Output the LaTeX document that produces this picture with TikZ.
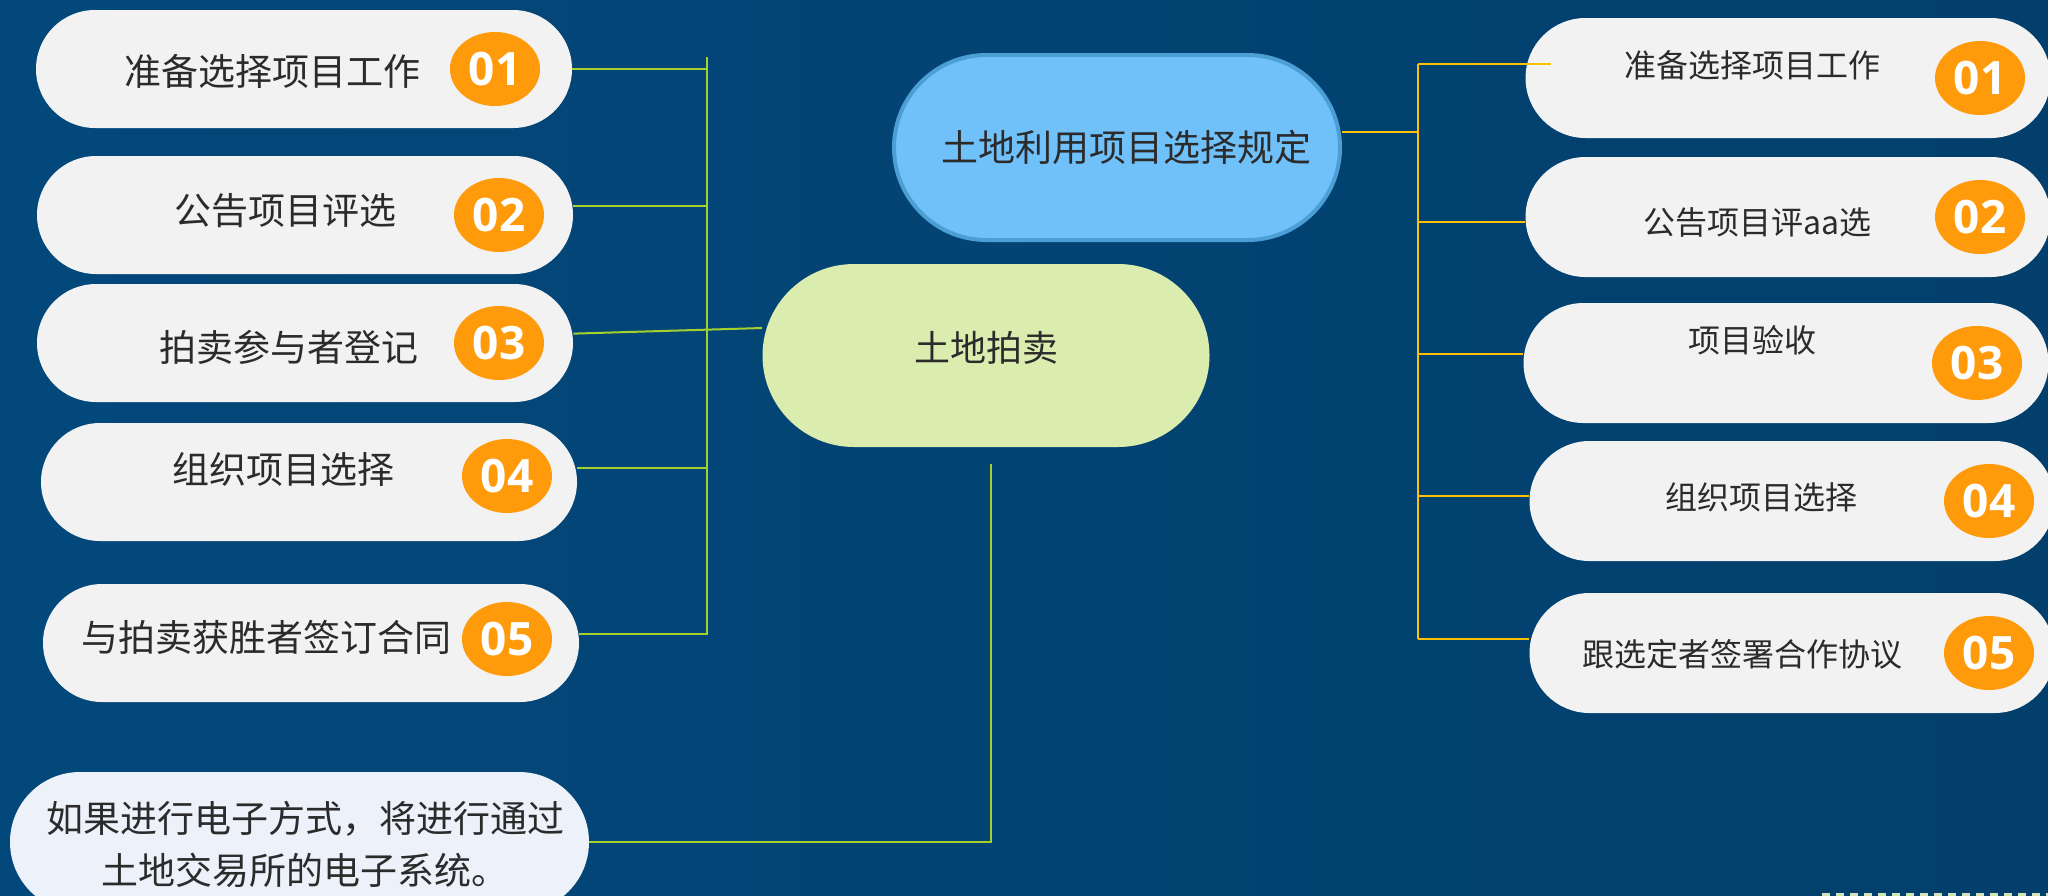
\documentclass[tikz,border=0pt]{standalone}
\usepackage{fontspec}
\newfontfamily\cjk{Noto Sans CJK SC}
\newfontfamily\numfont{Open Sans}
\usetikzlibrary{shapes.geometric}

\definecolor{bgleft}{HTML}{03487B}
\definecolor{bgright}{HTML}{023F6C}
\definecolor{boxgray}{HTML}{F2F2F2}
\definecolor{boxpale}{HTML}{EDF1F9}
\definecolor{numorange}{HTML}{FF9A0B}
\definecolor{leafgreen}{HTML}{A4D12C}
\definecolor{leafgold}{HTML}{FFC000}
\definecolor{rulesblue}{HTML}{70C0FA}
\definecolor{rulesrim}{HTML}{4B9FD4}
\definecolor{auctiongreen}{HTML}{DBECAF}
\definecolor{inkgray}{HTML}{2B2B2B}
\definecolor{dashpale}{HTML}{D2E3B8}

\tikzset{
	leftbox/.style={rectangle,rounded corners=29.5pt,fill=boxgray,minimum width=268pt,minimum height=59pt,inner sep=0pt},
	rightbox/.style={rectangle,rounded corners=30pt,fill=boxgray,minimum width=262.5pt,minimum height=60pt,inner sep=0pt},
	notebox/.style={rectangle,rounded corners=35pt,fill=boxpale,minimum width=289.5pt,minimum height=70pt,inner sep=0pt},
	itemtext/.style={inner sep=0pt,text=inkgray,font=\cjk\fontsize{18.5}{26}\selectfont},
	itemsmall/.style={inner sep=0pt,text=inkgray,font=\cjk\fontsize{16}{20}\selectfont},
	numdot/.style={ellipse,fill=numorange,minimum width=45pt,minimum height=37pt,inner sep=0pt,text=white,font=\numfont\bfseries\fontsize{23}{26}\selectfont},
	gline/.style={leafgreen,line width=1pt},
	oline/.style={leafgold,line width=1pt},
}

\begin{document}
\begin{tikzpicture}[x=0.5pt,y=-0.5pt]
	\useasboundingbox (0,0) rectangle (2048,895);
	\shade[left color=bgleft,right color=bgright] (0,0) rectangle (2048,895);
	
	% The two heads
	\node[rectangle,rounded corners=46.25pt,fill=rulesblue,draw=rulesrim,line width=2pt,minimum width=223pt,minimum height=92.5pt,text=inkgray,font=\cjk\fontsize{18.5}{22}\selectfont] (rules) at (1117,147.5) {\hspace{9pt}土地利用项目选择规定};
	\node[rectangle,rounded corners=45.75pt,fill=auctiongreen,minimum width=223.5pt,minimum height=91.5pt,inner sep=0pt,text=inkgray,font=\cjk\fontsize{18}{22}\selectfont] (auction) at (986,355.5) {\raisebox{9pt}{土地拍卖}\hspace{16pt}};
	
	% Left column
	\foreach \n/\bx/\by/\tx/\ty/\cx/\cy/\txt in {
		1/304/69/272/71/495/69/准备选择项目工作,
		2/305/215/285/211/499/215/公告项目评选,
		3/305/343/289/347/499/343/拍卖参与者登记,
		4/309/482/283/469/507/476/组织项目选择,
		5/311/643/266/637/507/639/与拍卖获胜者签订合同}
	{
		\node[leftbox] (L\n) at (\bx,\by) {};
		\node[itemtext] (L\n text) at (\tx,\ty) {\txt};
		\node[numdot] (L\n num) at (\cx,\cy) {0\n};
	}
	\node[notebox] (L6) at (299.5,842) {};
	\node[itemtext,align=center] (L6 text) at (305,844) {如果进行电子方式，将进行通过\\土地交易所的电子系统。};
	
	% Right column
	\foreach \n/\bx/\by/\tx/\ty/\cx/\cy/\txt in {
		1/1788/78/1752/65/1980/78/准备选择项目工作,
		2/1788/217/1757/222/1980/217/公告项目评aa选,
		3/1786/363/1752/340/1977/363/项目验收,
		4/1792/501/1761/497/1989/501/组织项目选择,
		5/1792/653/1742/654/1989/653/跟选定者签署合作协议}
	{
		\node[rightbox] (R\n) at (\bx,\by) {};
		\node[itemsmall] (R\n text) at (\tx,\ty) {\txt};
		\node[numdot] (R\n num) at (\cx,\cy) {0\n};
	}
	
	% The green tree
	\coordinate (ltop) at (707,57);
	\coordinate (lbot) at (707,635);
	\coordinate (drop) at (991,464);
	\draw[gline] (ltop) -- (lbot);
	\draw[gline] (L1.east) -- (L1.east -| ltop);
	\draw[gline] (L2.2) -- (L2.2 -| ltop);
	\draw[gline] (L3.2) -- (auction.173);
	\draw[gline] (L4.3) -- (L4.3 -| ltop);
	\draw[gline] (L5.2) -- (L5.2 -| ltop);
	\draw[gline] (drop) -- (drop |- L6.east) -- (L6.east);
	
	% The gold tree
	\coordinate (rtop) at (1418,64);
	\coordinate (rbot) at (1418,639);
	\draw[oline] (rtop) -- (rbot);
	\draw[oline] (rules.4) -- (rules.4 -| rtop);
	\draw[oline] (R1.177 -| rtop) -- ([xshift=13pt]R1.177);
	\draw[oline] (R2.181 -| rtop) -- (R2.181);
	\draw[oline] (R3.178 -| rtop) -- (R3.178);
	\draw[oline] (R4.179 -| rtop) -- (R4.179);
	\draw[oline] (R5.177 -| rtop) -- (R5.177);
	
	% Dashes at the foot
	\draw[dashpale,line width=1.5pt,dash pattern=on 4pt off 3pt] (1822,894) -- (2048,894);
\end{tikzpicture}
\end{document}
